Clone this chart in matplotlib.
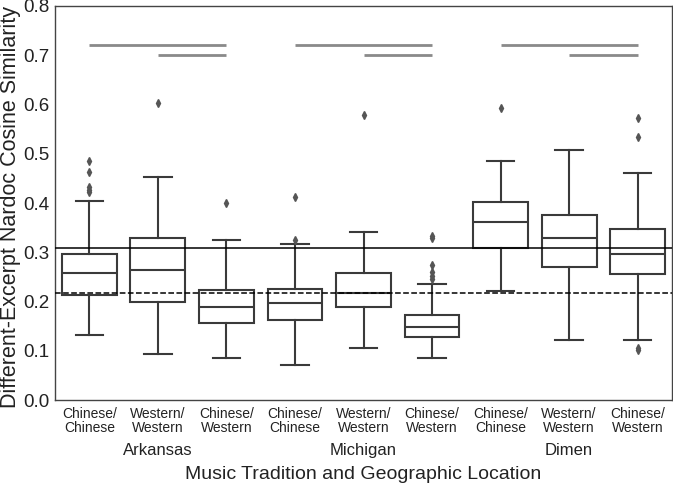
import matplotlib
matplotlib.use('agg')
import matplotlib.pyplot as plt
import matplotlib.transforms as mtransforms

plt.rcParams['font.family'] = ['Liberation Sans', 'DejaVu Sans']

# data
categories = ['Chinese/\nChinese', 'Western/\nWestern', 'Chinese/\nWestern'] * 3
locations = ['Arkansas', 'Michigan', 'Dimen']
whislo = [0.132, 0.094, 0.085, 0.071, 0.106, 0.085, 0.222, 0.122, 0.122]
q1 = [0.213, 0.200, 0.157, 0.163, 0.189, 0.128, 0.309, 0.271, 0.256]
med = [0.257, 0.263, 0.189, 0.196, 0.217, 0.148, 0.362, 0.329, 0.297]
q3 = [0.296, 0.329, 0.224, 0.226, 0.258, 0.172, 0.402, 0.375, 0.347]
whishi = [0.404, 0.453, 0.325, 0.316, 0.342, 0.235, 0.485, 0.507, 0.461]
fliers = [
    [0.486, 0.463, 0.433, 0.427, 0.423],
    [0.603],
    [0.399],
    [0.413, 0.325],
    [0.579],
    [0.334, 0.328, 0.274, 0.259, 0.252, 0.246],
    [0.593],
    [],
    [0.572, 0.535, 0.106, 0.102],
]
ref_solid = 0.309
ref_dashed = 0.218
# significance bars: (start box, end box, height)
sig_bars = [(0, 2, 0.72), (1, 2, 0.70),
            (3, 5, 0.72), (4, 5, 0.70),
            (6, 8, 0.72), (7, 8, 0.70)]

stats = []
for i in range(len(categories)):
    stats.append(dict(whislo=whislo[i], q1=q1[i], med=med[i], q3=q3[i],
                      whishi=whishi[i], fliers=fliers[i]))

fig = plt.figure(figsize=(6.73, 4.94), dpi=100)
ax = fig.add_axes([55/673, 94/494, 617/673, 394/494])

line_c = '#3a3a3a'
ax.bxp(stats, positions=range(len(stats)), widths=0.8, patch_artist=True,
       boxprops=dict(facecolor='white', edgecolor=line_c, linewidth=1.5),
       medianprops=dict(color=line_c, linewidth=1.5),
       whiskerprops=dict(color=line_c, linewidth=1.5),
       capprops=dict(color=line_c, linewidth=1.5),
       flierprops=dict(marker='d', markersize=4, markerfacecolor='#555555',
                       markeredgecolor='#555555'),
       zorder=2)

ax.axhline(ref_solid, color='black', linewidth=1.1, zorder=3)
ax.axhline(ref_dashed, color='black', linewidth=1.1, linestyle='--', zorder=3)

for s, e, h in sig_bars:
    ax.plot([s, e], [h, h], color='#8a8a8a', linewidth=2, solid_capstyle='butt')

ax.set_xlim(-0.5, len(categories) - 0.5)
ax.set_ylim(0, 0.8)
ax.set_yticks([i / 10 for i in range(9)])
ax.set_yticklabels([f'{i / 10:.1f}' for i in range(9)], fontsize=13.5, color='#222222')
ax.set_xticks(range(len(categories)))
ax.set_xticklabels(categories, fontsize=10, color='#222222', linespacing=1.05)
ax.tick_params(axis='both', length=0, pad=5)
ax.tick_params(axis='y', pad=4)

for spine in ax.spines.values():
    spine.set_color('#444444')
    spine.set_linewidth(1.0)

# location names under each group of three
trans = mtransforms.blended_transform_factory(ax.transData, ax.transAxes)
for k, loc in enumerate(locations):
    ax.text(3 * k + 1, -0.128, loc, ha='center', va='center', fontsize=12,
            color='#222222', transform=trans, clip_on=False)

ax.set_ylabel('Different-Excerpt Nardoc Cosine Similarity', fontsize=15.5,
              color='#222222')
ax.yaxis.set_label_coords(-0.055, 0.49)
ax.set_xlabel('Music Tradition and Geographic Location', fontsize=14,
              color='#222222')
ax.xaxis.set_label_coords(0.5, -0.188)
ax.xaxis.label.set_va('center')

plt.savefig('out.png', dpi=100)
